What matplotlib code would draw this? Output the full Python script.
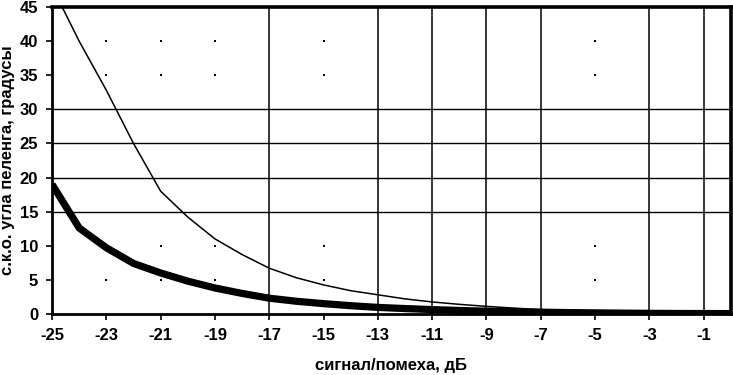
import numpy as np
import matplotlib
matplotlib.use("Agg")
import matplotlib.pyplot as plt

plt.rcParams['font.family'] = ['Liberation Sans', 'DejaVu Sans']
plt.rcParams['font.weight'] = 'bold'
plt.rcParams['axes.unicode_minus'] = False

# signal/noise, dB
snr = [-25, -24, -23, -22, -21, -20, -19, -18, -17, -16, -15, -14, -13,
       -12, -11, -10, -9, -8, -7, -6, -5, -4, -3, -2, -1, 0]
# thin curve
thin = [48.0, 40.0, 32.8, 25.0, 18.0, 14.2, 11.0, 8.7, 6.7, 5.3, 4.25, 3.4, 2.8,
        2.2, 1.75, 1.4, 1.1, 0.85, 0.62, 0.48, 0.36, 0.27, 0.2, 0.15, 0.11, 0.08]
# thick curve
thick = [19.0, 12.6, 9.7, 7.4, 6.0, 4.8, 3.8, 3.0, 2.3, 1.85, 1.5, 1.2, 0.95,
         0.78, 0.63, 0.5, 0.4, 0.32, 0.25, 0.19, 0.15, 0.11, 0.08, 0.06, 0.05, 0.04]

xticks = list(range(-25, 0, 2))
yticks = list(range(0, 46, 5))
# grid that survived in the picture
vgrid = [-17, -13, -11, -9, -7, -3, -1]
hgrid = [15, 20, 25, 30]
# remaining grid crossings shown only as dots
dot_x = [-23, -21, -19, -15, -5]
dot_y = [5, 10, 35, 40]

fig = plt.figure(figsize=(7.33, 3.75), dpi=100)
ax = fig.add_axes([0.071, 0.163, 0.926, 0.818])

for v in vgrid:
    ax.axvline(v, color='black', lw=1.1, zorder=1)
for h in hgrid:
    ax.axhline(h, color='black', lw=1.0, zorder=1)
for dx in dot_x:
    for dy in dot_y:
        ax.plot(dx, dy, marker='s', ms=1.5, color='black', mew=0, zorder=1)

ax.plot(snr, thin, color='black', lw=1.1, zorder=3)
ax.plot(snr, thick, color='black', lw=5.2, zorder=4, solid_capstyle='butt')

ax.set_xlim(-25, 0)
ax.set_ylim(0, 45)
ax.set_xticks(xticks)
ax.set_yticks(yticks)
ax.tick_params(axis='both', direction='out', length=4, width=1.2,
               labelsize=12, pad=6, colors='black')
for lab in ax.get_xticklabels() + ax.get_yticklabels():
    lab.set_fontweight('bold')

for s in ['left', 'bottom']:
    ax.spines[s].set_linewidth(2.0)
for s in ['top', 'right']:
    ax.spines[s].set_linewidth(2.6)

ax.set_xlabel('сигнал/помеха, дБ', fontsize=12, fontweight='bold', labelpad=11)
ax.set_ylabel('с.к.о. угла пеленга, градусы', fontsize=12, fontweight='bold', labelpad=3)

fig.savefig('out.png', dpi=100)
